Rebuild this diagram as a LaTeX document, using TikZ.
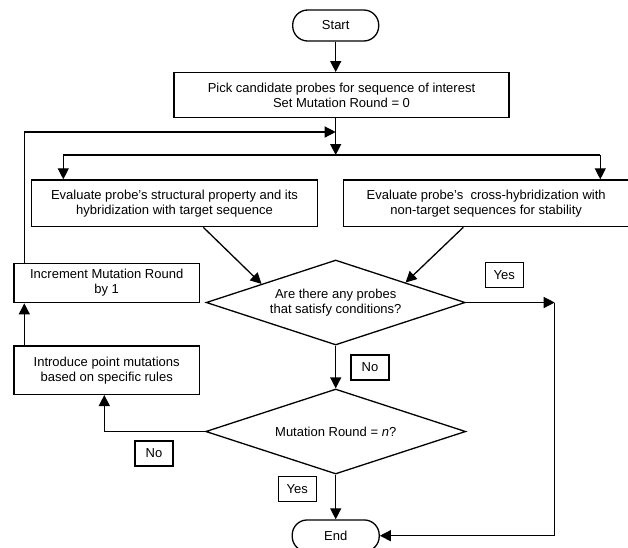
\documentclass[tikz,border=0pt]{standalone}
\usepackage{fontspec}
\setmainfont{Liberation Sans}
\usetikzlibrary{shapes.geometric,arrows.meta,calc}
\begin{document}
\begin{tikzpicture}[x=1pt,y=-1pt, line width=1.3pt,
  every node/.style={font=\fontsize{13}{15}\selectfont, align=center},
  box/.style={draw, rectangle, inner sep=0pt},
  term/.style={draw, rectangle, rounded corners=15pt, inner sep=0pt},
  dec/.style={draw, diamond, aspect=3, inner sep=0pt},
  lab/.style={draw, rectangle, inner sep=0pt, minimum width=38pt, minimum height=25pt},
  arr/.style={-{Triangle[length=11pt,width=11pt]}},
]
\useasboundingbox (0,0) rectangle (628,547);
\clip (0,0) rectangle (628,547);

% nodes
\node[term, minimum width=86pt, minimum height=31pt] (start) at (335.7,25.5) {Start};
\node[box, minimum width=335pt, minimum height=45pt] (pick) at (341.5,95.2)
  {Pick candidate probes for sequence of interest\\Set Mutation Round = 0};
\node[box, minimum width=285.6pt, minimum height=46.7pt] (le) at (174.5,203.3)
  {Evaluate probe’s structural property and its\\hybridization with target sequence};
\node[box, minimum width=285.6pt, minimum height=46.7pt] (re) at (486.2,203.3)
  {Evaluate probe’s~ cross-hybridization with\\non-target sequences for stability};
\node[dec, minimum width=259pt, minimum height=85pt] (d1) at (335.7,302.5)
  {Are there any probes\\that satisfy conditions?};
\node[lab] (y1) at (504.3,275) {Yes};
\node[box, minimum width=185.3pt, minimum height=39.4pt] (inc) at (106.7,283)
  {Increment Mutation Round\\by 1};
\node[box, minimum width=185.3pt, minimum height=48.3pt] (intro) at (106.7,370.2)
  {Introduce point mutations\\based on specific rules};
\node[lab] (n1) at (370,367.5) {No};
\node[dec, minimum width=260pt, minimum height=85pt] (d2) at (335.7,431.5)
  {Mutation Round = \textit{n}?};
\node[lab] (n2) at (154,453.5) {No};
\node[lab] (y2) at (297.2,488.7) {Yes};
\node[term, minimum width=87pt, minimum height=31.5pt] (end) at (335.7,535.7) {End};

% coordinates
\coordinate (fb) at (335.7,132);
\coordinate (fbl) at (24.3,132);
\coordinate (br) at (335.7,155);
\coordinate (bl) at (63.3,155);
\coordinate (brr) at (600.3,155);
\coordinate (cr) at (554.7,302.5);
\coordinate (nl) at (104.3,431.5);

% connectors
\draw[arr] (start.south) -- (start.south |- pick.north);
\draw[arr] (pick.south -| start.south) -- (br);
\draw (bl) -- (brr);
\draw[arr] (bl) -- (bl |- le.north);
\draw[arr] (brr) -- (brr |- re.north);
\draw[arr] (fbl |- inc.north) -- (fbl) -- (fb);
\draw[arr] ([xshift=28.8pt]le.south) -- ($(d1.west)!0.43!(d1.north)$);
\draw[arr] ([xshift=-22.9pt]re.south) -- ($(d1.east)!0.463!(d1.north)$);
\draw[arr] (d1.east) -- (cr);
\draw[arr] (cr) |- (end.east);
\draw[arr] (d1.south) -- (d2.north);
\draw[arr] (intro.north -| fbl) -- (inc.south -| fbl);
\draw[arr] (d2.west) -- (nl) -- (nl |- intro.south);
\draw[arr] (d2.south) -- (end.north);
\end{tikzpicture}
\end{document}
